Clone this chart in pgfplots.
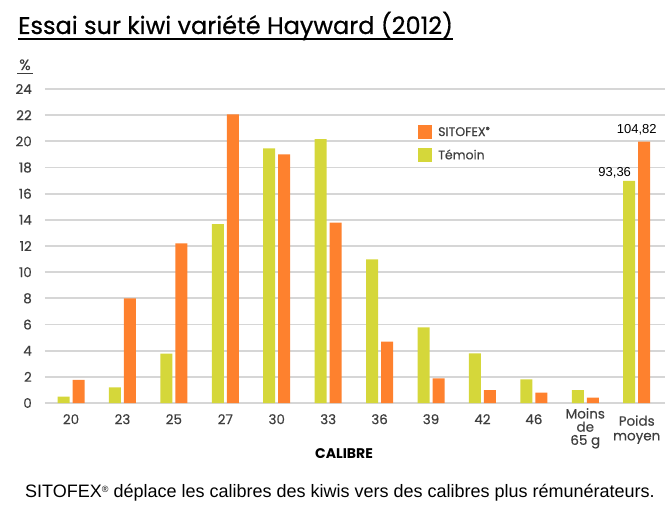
\documentclass[border=0pt]{standalone}
\usepackage{pgfplots}
\pgfplotsset{compat=1.18}
\usepackage{fontspec}
\setmainfont{Poppins}
\newfontfamily\medfont[FakeBold=0.35]{Poppins}
\newfontfamily\titlefont[FakeBold=0.6]{Poppins}
\newfontfamily\arialf{Liberation Sans}
\definecolor{sitofex}{HTML}{FE812E}
\definecolor{temoin}{HTML}{D5D73A}
\definecolor{gridgray}{HTML}{D6D6D6}
\definecolor{ticktext}{HTML}{3E3E3E}
\newcommand{\reg}{\raisebox{3.5pt}{\fontsize{8}{8}\selectfont ®}}
\begin{document}
\begin{tikzpicture}
\path[use as bounding box] (0pt,0pt) rectangle (670pt,-516pt);
% title
\node[anchor=base west, inner sep=0pt] (t) at (18pt,-34pt) {\titlefont\fontsize{24}{24}\selectfont Essai sur kiwi variété Hayward (2012)};
\draw[line width=1.3pt] (18pt,-39pt) -- (t.east |- 0,-39pt);
% percent sign
\node[anchor=base, inner sep=0pt, text=ticktext] at (25pt,-70pt) {\medfont\fontsize{15}{15}\selectfont \%};
\draw[line width=0.9pt, ticktext] (17pt,-73pt) -- (33pt,-73pt);
\begin{axis}[
  at={(45pt,-403pt)}, anchor=south west,
  scale only axis, width=620pt, height=314pt,
  xmin=-0.506, xmax=11.55, ymin=0, ymax=24,
  ytick={0,2,...,24},
  ymajorgrids, grid style={gridgray, line width=1.8pt},
  axis line style={draw=none}, major tick length=0pt,
  /pgf/number format/assume math mode=true,
  yticklabel style={anchor=east, inner sep=0pt, xshift=-13pt, text=ticktext, font=\medfont\fontsize{13.5}{13.5}\selectfont},
  xtick={0,1,2,3,4,5,6,7,8,9,11},
  xticklabels={20,23,25,27,30,33,36,39,42,46,{\rule{0pt}{11.5pt}Poids\\[1.5pt]moyen}},
  extra x ticks={10},
  extra x tick labels={{Moins\\de\\65 g}},
  extra x tick style={xticklabel style={yshift=6pt}},
  xticklabel style={anchor=north, inner sep=0pt, yshift=-11pt, align=center, text=ticktext, font=\medfont\fontsize{13.5}{13.2}\selectfont},
  ybar, bar width=12pt,
  legend style={at={(0.6016,0.8854)}, anchor=north west, draw=none, fill=none, inner sep=0pt,
     row sep=9pt, column sep=6pt, font=\medfont\fontsize{12.5}{12.5}\selectfont\color{ticktext},
     nodes={inner sep=0pt}},
  legend cell align=left,
  reverse legend,
  legend image code/.code={\fill[#1] (0pt,-7pt) rectangle (14pt,7pt);},
]
\addplot[fill=temoin, draw=none, bar shift=-7.5pt] coordinates {
(0,0.48) (1,1.2) (2,3.77) (3,13.68) (4,19.47) (5,20.16) (6,10.98) (7,5.78) (8,3.8) (9,1.81) (10,0.99) (11,16.97)};
\addlegendentry{Témoin}
\addplot[fill=sitofex, draw=none, bar shift=7.5pt] coordinates {
(0,1.76) (1,8.0) (2,12.21) (3,22.07) (4,19.01) (5,13.78) (6,4.69) (7,1.89) (8,0.99) (9,0.79) (10,0.41) (11,19.98)};
\addlegendentry{SITOFEX\reg}
\node[anchor=base, inner sep=0pt] at ([xshift=-22pt,yshift=4pt]axis cs:11,16.97) {\arialf\fontsize{13}{13}\selectfont 93,36};
\node[anchor=base, inner sep=0pt] at ([xshift=0pt,yshift=8pt]axis cs:11,19.98) {\arialf\fontsize{13}{13}\selectfont 104,82};
\end{axis}
\node[anchor=base, inner sep=0pt] at (344pt,-458pt) {\fontsize{14}{14}\selectfont\bfseries CALIBRE};
\node[anchor=base, inner sep=0pt] at (340pt,-497pt) {\arialf\fontsize{18}{18}\selectfont SITOFEX\raisebox{5pt}{\fontsize{9}{9}\selectfont ®} déplace les calibres des kiwis vers des calibres plus rémunérateurs.};
\end{tikzpicture}
\end{document}
